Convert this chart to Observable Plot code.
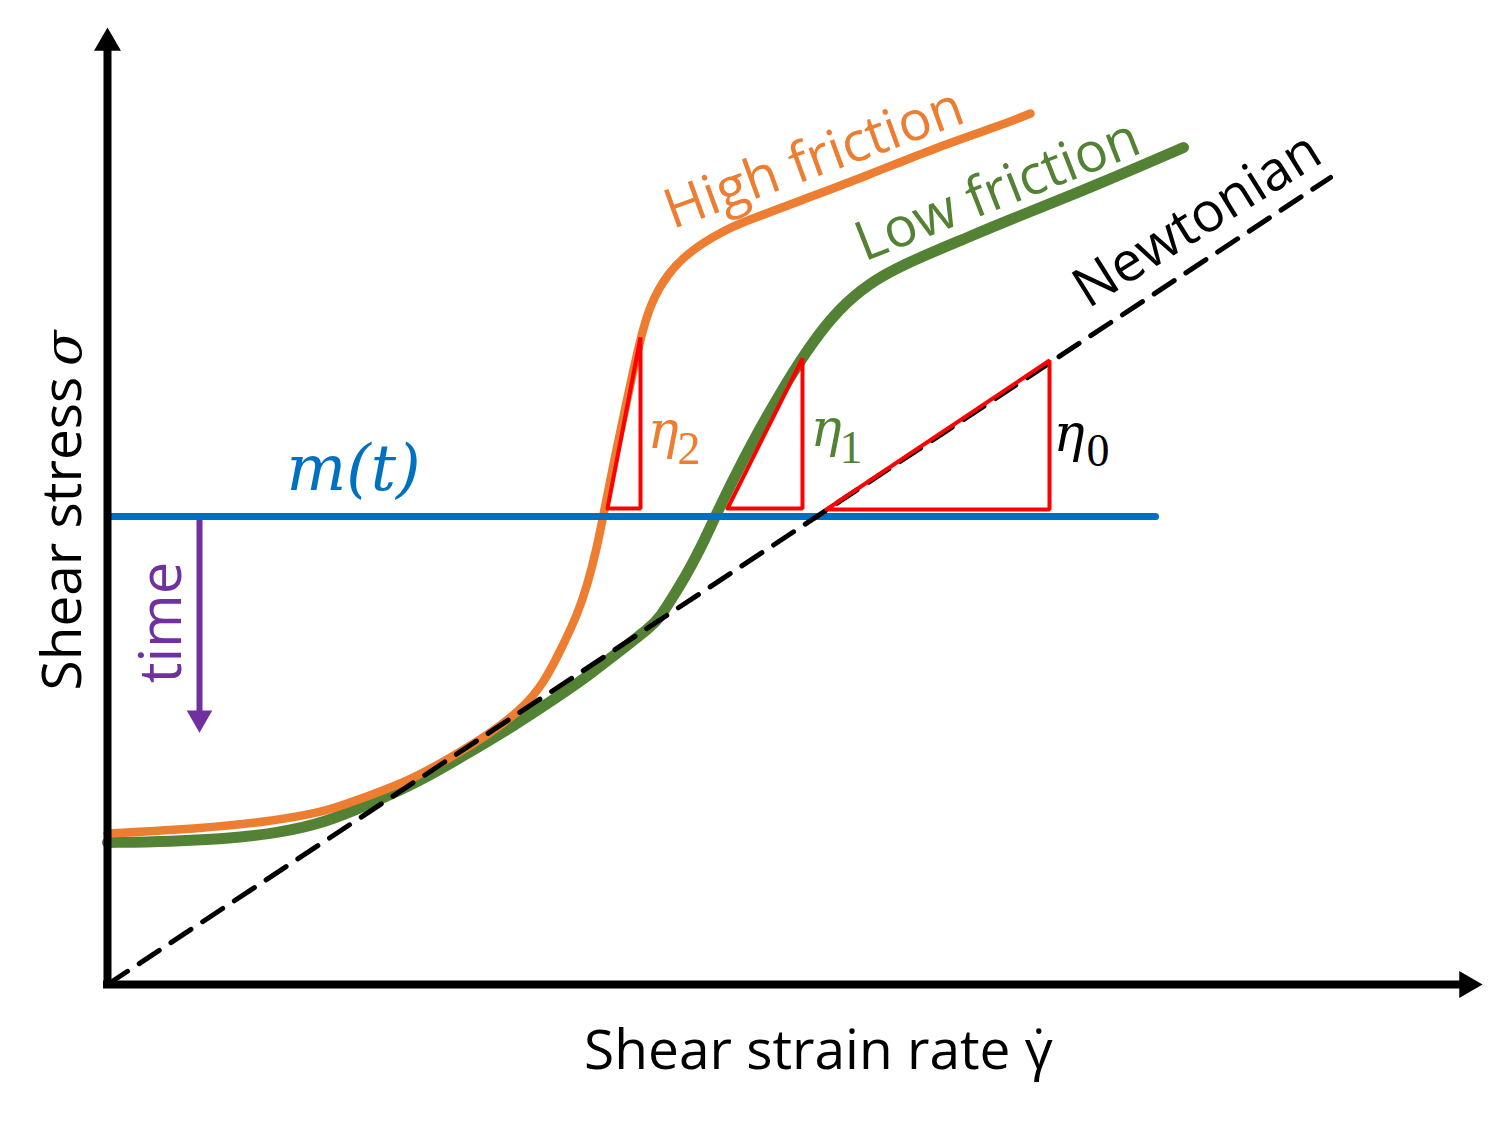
<!DOCTYPE html>
<html><head><meta charset="utf-8">
<script src="https://cdn.jsdelivr.net/npm/d3@7"></script>
<script src="https://cdn.jsdelivr.net/npm/@observablehq/plot@0.6"></script>
<style>html,body{margin:0;background:#fff}#chart svg{display:block}</style>
</head><body><div id="chart"></div>
<script>
// ---- data (arbitrary units: shear strain rate, shear stress) ----
const highFriction = [
  [0.00,1.51],[0.93,1.56],[1.63,1.63],[2.18,1.73],[2.43,1.82],[3.03,2.04],[3.43,2.27],
  [3.83,2.51],[4.16,2.77],[4.36,3.01],[4.53,3.34],[4.70,3.70],[4.80,4.00],[4.89,4.35],
  [4.96,4.70],[5.06,5.21],[5.20,5.87],[5.33,6.47],[5.43,6.81],[5.60,7.11],[5.83,7.34],
  [6.16,7.54],[6.40,7.64],[6.93,7.84],[7.60,8.09],[8.26,8.36],[8.93,8.59],[9.23,8.71]
];
const lowFriction = [
  [0.00,1.42],[0.63,1.43],[1.23,1.46],[1.73,1.52],[2.18,1.62],[2.63,1.81],[3.10,2.02],
  [3.60,2.31],[4.10,2.61],[4.43,2.83],[4.76,3.05],[5.10,3.32],[5.43,3.57],[5.53,3.68],
  [5.65,3.87],[5.78,4.08],[5.93,4.36],[6.05,4.62],[6.23,5.00],[6.50,5.52],[6.80,6.04],
  [7.06,6.44],[7.33,6.77],[7.60,7.00],[7.93,7.19],[8.60,7.47],[8.93,7.61],[9.93,8.01],
  [10.76,8.37]
];
const newtonian = [[0,0],[12.23,8.07]];
const mOfT = [[0,4.68],[10.48,4.68]];
const slopeTriangles = [
  {id:"eta2", pts:[[5.00,4.76],[5.33,4.76],[5.33,6.47]]},
  {id:"eta1", pts:[[6.20,4.76],[6.95,4.76],[6.95,6.26]]},
  {id:"eta0", pts:[[7.19,4.75],[9.42,4.75],[9.42,6.24]]}
];
const etaSymbols = [
  {id:"eta2", x:5.40, y:5.37, sub:"2", sx:5.70, sy:5.21},
  {id:"eta1", x:7.03, y:5.39, sub:"1", sx:7.32, sy:5.22},
  {id:"eta0", x:9.46, y:5.34, sub:"0", sx:9.79, sy:5.19}
];
const axisTips = {x:13.75, y:9.57};
const timeArrow = {x:0.92, y1:4.64, y2:2.52};
const curveLabels = [
  {text:"High friction", x:7.125, y:8.09, angle:-20, series:"high"},
  {text:"Low friction",  x:8.965, y:7.775, angle:-21.4, series:"low"},
  {text:"Newtonian",     x:10.99, y:7.495, angle:-32, series:"newt"}
];
const axisLabels = {x:{text:"Shear strain rate \u03B3\u0307", x:7.11, y:-0.84},
                    y:{text:"Shear stress", x:-0.27, y:2.94},
                    ySymbol:{text:"\u03C3", x:-0.27, y:6.54}};
const mLabel = {text:"m(t)", x:2.46, y:4.95};
const timeLabel = {text:"time", x:0.73, y:3.62};

// ---- styles ----
const C = {high:"#ED7D31", low:"#548235", newt:"#000000", blue:"#0070C0", purple:"#7030A0", red:"#FF0000",
           eta2:"#ED7D31", eta1:"#548235", eta0:"#000000"};
const SANS = "'Open Sans', sans-serif";
const SERIF = "'DejaVu Serif', serif";

const triRows = slopeTriangles.flatMap(t => [...t.pts, t.pts[0]].map(([x,y]) => ({id:t.id, x, y})));

const plot = Plot.plot({
  width: 1511, height: 1125,
  marginTop: 0, marginRight: 0, marginBottom: 0, marginLeft: 0,
  x: {domain: [-1.07, 14.04], axis: null},
  y: {domain: [-1.41, 9.84], axis: null},
  style: {background: "#fff"},
  marks: [
    Plot.line(lowFriction, {x: d => d[0], y: d => d[1], stroke: C.low, strokeWidth: 11, curve: "basis"}),
    Plot.line(highFriction, {x: d => d[0], y: d => d[1], stroke: C.high, strokeWidth: 8.5, curve: "basis"}),
    Plot.line(mOfT, {x: d => d[0], y: d => d[1], stroke: C.blue, strokeWidth: 7}),
    Plot.line(newtonian, {x: d => d[0], y: d => d[1], stroke: "#000", strokeWidth: 5, strokeDasharray: "24 14"}),
    Plot.line(triRows, {x: "x", y: "y", z: "id", stroke: C.red, strokeWidth: 4, strokeLinejoin: "miter"}),
    // time arrow
    Plot.ruleX([timeArrow], {x: "x", y1: "y1", y2: d => d.y2 + 0.2, stroke: C.purple, strokeWidth: 6}),
    Plot.dot([timeArrow], {x: "x", y: "y2", symbol: "triangle", r: 9.5, fill: C.purple, stroke: null, rotate: 180, dy: -14.5}),
    // axes
    Plot.ruleX([0], {y1: -0.04, y2: axisTips.y - 0.2, stroke: "#000", strokeWidth: 8}),
    Plot.ruleY([0], {x1: -0.04, x2: axisTips.x - 0.2, stroke: "#000", strokeWidth: 8}),
    Plot.dot([axisTips], {x: 0, y: "y", symbol: "triangle", r: 10, fill: "#000", stroke: null, dy: 15.5}),
    Plot.dot([axisTips], {x: "x", y: 0, symbol: "triangle", r: 10, fill: "#000", stroke: null, rotate: 90, dx: -15.5}),
    // labels
    Plot.text(curveLabels, {x: "x", y: "y", text: "text", rotate: d => d.angle, fill: d => C[d.series],
      fontSize: 55, fontFamily: SANS, textAnchor: "middle", lineAnchor: "bottom"}),
    Plot.text([axisLabels.x], {x: "x", y: "y", text: "text", fill: "#000", fontSize: 55, fontFamily: SANS, textAnchor: "middle", lineAnchor: "bottom"}),
    Plot.text([axisLabels.y], {x: "x", y: "y", text: "text", fill: "#000", fontSize: 55, fontFamily: SANS, textAnchor: "start", lineAnchor: "bottom", rotate: -90}),
    Plot.text([axisLabels.ySymbol], {x: "x", y: "y", text: "text", fill: "#000", fontSize: 52, fontFamily: SERIF, fontStyle: "italic", textAnchor: "end", lineAnchor: "bottom", rotate: -90}),
    Plot.text([timeLabel], {x: "x", y: "y", text: "text", fill: C.purple, fontSize: 58, fontFamily: SANS, textAnchor: "middle", lineAnchor: "bottom", rotate: -90}),
    Plot.text([mLabel], {x: "x", y: "y", text: "text", fill: C.blue, fontSize: 63, fontFamily: SERIF, fontStyle: "italic", textAnchor: "middle", lineAnchor: "bottom"}),
    Plot.text(etaSymbols, {x: "x", y: "y", text: () => "\u03B7", fill: d => C[d.id], fontSize: 52, fontFamily: SERIF, fontStyle: "italic", textAnchor: "start", lineAnchor: "bottom"}),
    Plot.text(etaSymbols, {x: "sx", y: "sy", text: "sub", fill: d => C[d.id], fontSize: 46, fontFamily: "'Liberation Serif', serif", textAnchor: "start", lineAnchor: "bottom"})
  ]
});
document.getElementById("chart").appendChild(plot);
</script>
</body></html>
